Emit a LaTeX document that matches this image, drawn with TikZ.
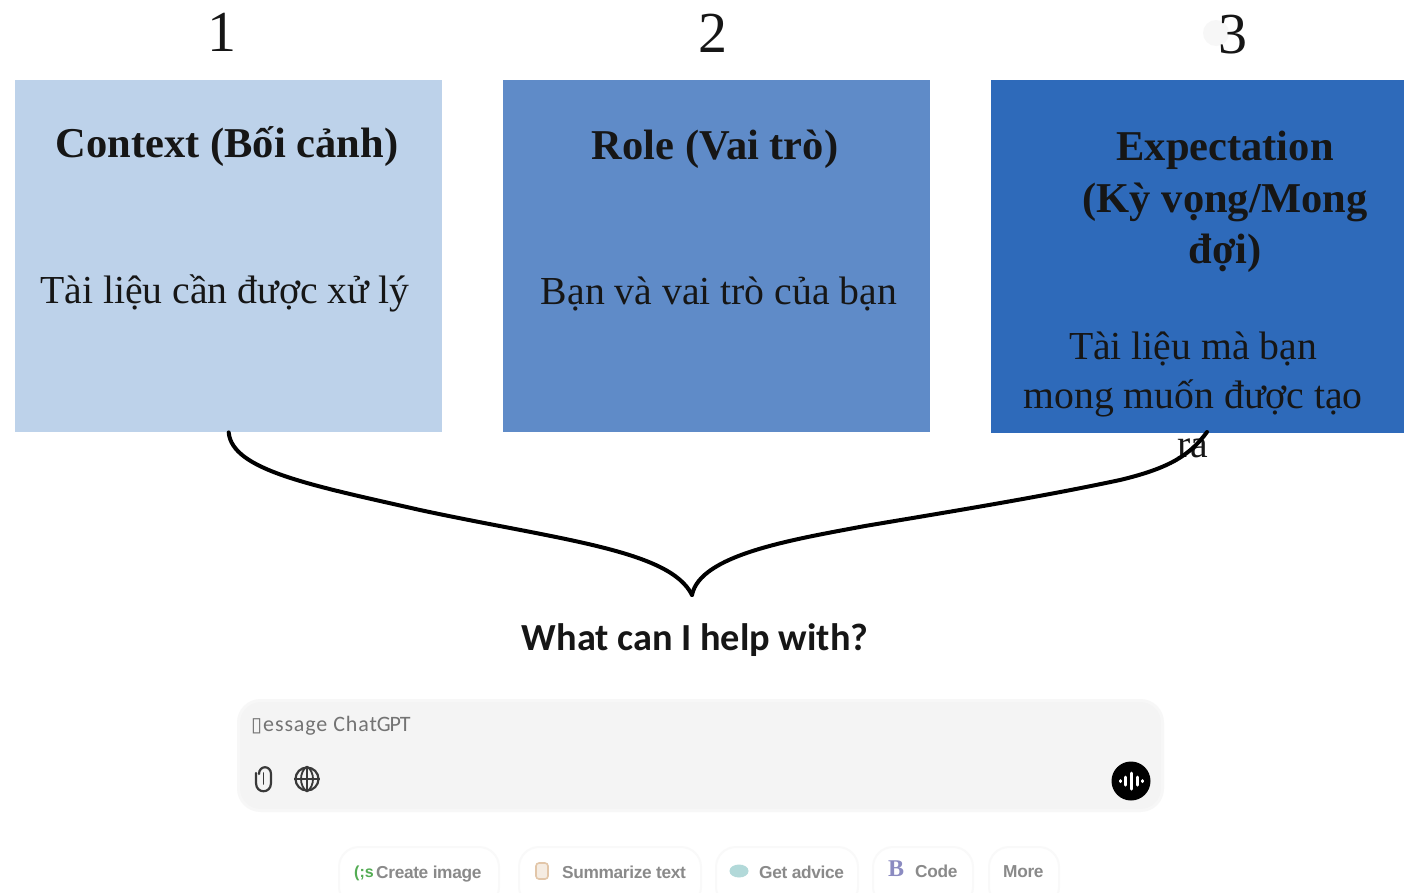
\documentclass[tikz,border=0pt]{standalone}
\usepackage{fontspec}
\usetikzlibrary{shapes.geometric}
\setmainfont{Liberation Serif}
\newfontfamily\cbri{Carlito}
\newfontfamily\arial{Liberation Sans}
\newfontfamily\dvs{DejaVu Sans}
\definecolor{inkc}{HTML}{161616}
\definecolor{boxa}{HTML}{BDD2EA}
\definecolor{boxb}{HTML}{5F8BC8}
\definecolor{boxc}{HTML}{2E6ABA}
\definecolor{field}{HTML}{F4F4F4}
\definecolor{chipline}{HTML}{F9F9F9}
\definecolor{chiptext}{HTML}{8A8A8A}
\tikzset{
  x=1pt,y=-1pt,
  panel/.style={draw=none,inner sep=0,minimum height=352,anchor=north west},
  numlab/.style={inner sep=0,text=inkc,font=\fontsize{58}{58}\selectfont},
  headlab/.style={inner sep=0,text=inkc,align=center,font=\fontsize{42.5}{51.5}\selectfont\bfseries},
  bodylab/.style={inner sep=0,text=inkc,align=center,font=\fontsize{39.7}{49}\selectfont},
  brace/.style={line width=4pt,draw=black,line cap=round},
  chip/.style={draw=chipline,line width=2pt,rounded corners=20,fill=white},
  chiplab/.style={inner sep=0,text=chiptext,font=\arial\bfseries\fontsize{17.3}{18}\selectfont,anchor=west},
  iconline/.style={draw=inkc!85,line width=2.2pt}
}
\begin{document}
\begin{tikzpicture}
\useasboundingbox (0,0) rectangle (1404,892);
\clip (0,0) rectangle (1404,892);
\fill[white] (0,0) rectangle (1404,892);
% panels
\node[panel,fill=boxa,minimum width=427] (c1) at (15,80) {};
\node[panel,fill=boxb,minimum width=427] (c2) at (503,80) {};
\node[panel,fill=boxc,minimum width=413,minimum height=353] (c3) at (991,80) {};
% numbers
\fill[black!3] (1216,33) circle (13);
\node[numlab] (n1) at (222,32) {1};
\node[numlab] (n2) at (713,33) {2};
\node[numlab] (n3) at (1233,35) {3};
% panel text
\node[headlab] (h1) at (227,147) {Context (Bối cảnh)};
\node[headlab] (h2) at (715,149) {Role (Vai trò)};
\node[headlab] (h3) at (1225,202) {Expectation\\(Kỳ vọng/Mong\\đợi)};
\node[bodylab] (b1) at (225,293) {Tài liệu cần được xử lý};
\node[bodylab] (b2) at (719,294) {Bạn và vai trò của bạn};
\node[bodylab] (b3) at (1193,395) {Tài liệu mà bạn\\mong muốn được tạo\\ra};
% curves
\coordinate (join) at (692,595);
\coordinate (endr) at (1207,432);
\draw[brace] (c1.south) .. controls (232,470) and (310,485) .. (420,510)
  .. controls (560,540) and (670,550) .. (join);
\draw[brace] (join) .. controls (700,555) and (790,540) .. (865,526)
  .. controls (960,510) and (1040,497) .. (1120,480)
  .. controls (1170,468) and (1190,455) .. (endr);
% heading
\node[inner sep=0,text=inkc,font=\cbri\bfseries\fontsize{38.3}{38}\selectfont] (q) at (695,640) {What can I help with?};
% input field
\node[draw=field!70!white,line width=3pt,fill=field,rounded corners=22,inner sep=0,minimum width=924,minimum height=110,anchor=north west] (field) at (237,699) {};
\node[inner sep=0,anchor=west,text=black!55,font=\fontsize{22}{22}\selectfont] (msg) at (251,726) {{\dvs\fontsize{20}{20}\selectfont ▯}\hspace{1pt}{\cbri\addfontfeature{LetterSpace=4}essage Chat}{\cbri\addfontfeature{LetterSpace=-5}GPT}};
% paperclip
\draw[iconline,line cap=round] (256,773) -- (256,783) .. controls (256,794) and (271,794) .. (271,783)
  -- (271,774) .. controls (271,765) and (259,765) .. (259,774);
\draw[iconline,line width=1.8pt,line cap=round] (263.5,773) -- (263.5,784);
% globe
\node[iconline,circle,minimum size=23,inner sep=0] (globe) at (307,779) {};
\draw[iconline,line width=1.8pt] (globe.west) -- (globe.east) (globe.north) -- (globe.south);
\draw[iconline,line width=1.8pt] (globe.north) .. controls (299,772) and (299,786) .. (globe.south);
\draw[iconline,line width=1.8pt] (globe.north) .. controls (315,772) and (315,786) .. (globe.south);
% voice button
\node[circle,fill=black,minimum size=39,inner sep=0] (voice) at (1131,781) {};
\draw[white,line width=3pt,line cap=round]
  (1131,773) -- (1131,789) (1125,777) -- (1125,785) (1137,777) -- (1137,785)
  (1120,780.5) -- (1120,781.5) (1142,780.5) -- (1142,781.5);
% chips
\node[chip,minimum width=160,minimum height=60,inner sep=0,anchor=north west] (ch1) at (338,846) {};
\node[chip,minimum width=182,minimum height=60,inner sep=0,anchor=north west] (ch2) at (518,846) {};
\node[chip,minimum width=142,minimum height=60,inner sep=0,anchor=north west] (ch3) at (715,846) {};
\node[chip,minimum width=100,minimum height=60,inner sep=0,anchor=north west] (ch4) at (872,846) {};
\node[chip,minimum width=70,minimum height=60,inner sep=0,anchor=north west] (ch5) at (988,846) {};
\node[chiplab,text=green!35!gray,font=\arial\bfseries\fontsize{16}{16}\selectfont] (ic1) at (354,873) {(;s};
\node[chiplab] (t1) at (376,874) {\addfontfeature{LetterSpace=-2}Create image};
\node[draw=brown!45!white,fill=brown!15!white,line width=1.6pt,rounded corners=3,minimum width=12,minimum height=16,inner sep=0] (ic2) at (542,871) {};
\node[chiplab] (t2) at (562,872) {\addfontfeature{LetterSpace=-2}Summarize text};
\node[ellipse,fill=teal!30!white,minimum width=19,minimum height=13,inner sep=0] (ic3) at (739,871) {};
\node[chiplab] (t3) at (759,872) {\addfontfeature{LetterSpace=-2}Get advice};
\node[inner sep=0,anchor=west,text=blue!30!gray!70!white,font=\bfseries\fontsize{24}{24}\selectfont] (ic4) at (888,869) {B};
\node[chiplab] (t4) at (915,871) {\addfontfeature{LetterSpace=-2}Code};
\node[chiplab] (t5) at (1003,872) {\addfontfeature{LetterSpace=-2}More};
\end{tikzpicture}
\end{document}
